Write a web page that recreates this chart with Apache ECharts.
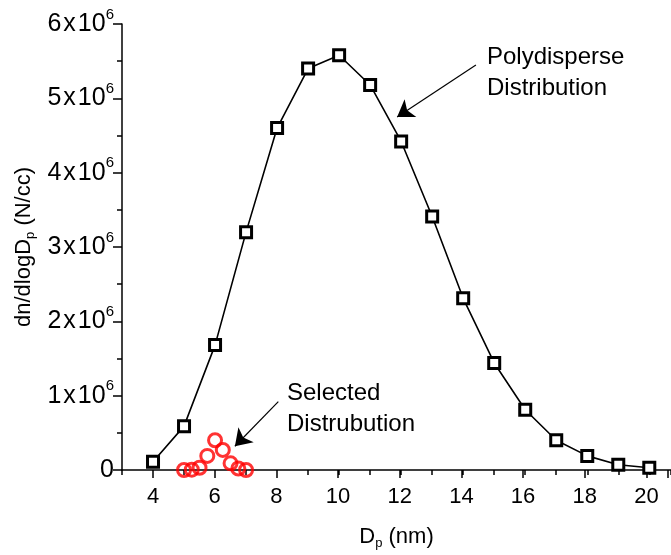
<!DOCTYPE html>
<html>
<head>
<meta charset="utf-8">
<script src="https://cdn.jsdelivr.net/npm/echarts@6/dist/echarts.min.js"></script>
<style>
    html, body { margin: 0; padding: 0; background: #fff; }
    #chart { width: 671px; height: 555px; }
</style>
</head>
<body>
<div id="chart"></div>
<script>
// 多分散分布 (黑色方块)
const polyX = [4, 5, 6, 7, 8, 9, 10, 11, 12, 13, 14, 15, 16, 17, 18, 19, 20];
const polyY = [0.11e6, 0.59e6, 1.68e6, 3.2e6, 4.6e6, 5.4e6, 5.58e6, 5.18e6, 4.42e6,
    3.41e6, 2.31e6, 1.44e6, 0.81e6, 0.40e6, 0.19e6, 0.07e6, 0.03e6];
// 选出的分布 (红色圆圈)
const selX = [5, 5.25, 5.5, 5.75, 6, 6.25, 6.5, 6.75, 7];
const selY = [0, 0.005e6, 0.03e6, 0.19e6, 0.40e6, 0.27e6, 0.09e6, 0.02e6, 0];
// 箭头 (数据坐标)
const polyArrow = [[14.41, 5.45e6], [11.87, 4.75e6]];
const selArrow = [[8.04, 0.92e6], [6.64, 0.32e6]];

const font = 'Liberation Sans';

const chart = echarts.init(document.getElementById('chart'));

const option = {
    animation: false,
    backgroundColor: '#fff',
    grid: [
        { left: 122, right: 0, top: 24, bottom: 85 },
        // 第二个 grid 只用来画偶数位置的长刻度和标签
        { left: 153, right: 0, top: 24, bottom: 85 }
    ],
    xAxis: [{
        type: 'value',
        min: 3,
        max: 20.7,
        interval: 1,
        axisLine: { lineStyle: { color: '#000', width: 1.5 } },
        axisTick: { length: 5, lineStyle: { color: '#000', width: 1.5 } },
        axisLabel: { show: false },
        splitLine: { show: false },
        name: 'D{sub|p} (nm)',
        nameLocation: 'middle',
        nameGap: 54,
        nameTextStyle: {
            fontFamily: font, fontSize: 22, color: '#000', lineHeight: 26,
            rich: {
                sub: { fontFamily: font, fontSize: 13, color: '#000', verticalAlign: 'bottom', lineHeight: 13 }
            }
        }
    }, {
        type: 'value',
        gridIndex: 1,
        min: 4,
        max: 20.7,
        interval: 2,
        axisLine: { show: false },
        axisTick: { length: 8, lineStyle: { color: '#000', width: 1.5 } },
        axisLabel: {
            fontFamily: font, fontSize: 22, color: '#000', margin: 16,
            formatter: v => (v % 2 === 0 ? String(v) : '')
        },
        splitLine: { show: false }
    }],
    yAxis: [{
        type: 'value',
        min: 0,
        max: 6e6,
        interval: 1e6,
        axisLine: { show: true, lineStyle: { color: '#000', width: 1.5 } },
        axisTick: { length: 9, lineStyle: { color: '#000', width: 1.5 } },
        minorTick: { show: true, splitNumber: 2, length: 5, lineStyle: { color: '#000', width: 1.5 } },
        splitLine: { show: false },
        axisLabel: {
            fontFamily: font, fontSize: 25, color: '#000', margin: 8, lineHeight: 34,
            formatter: v => (v === 0 ? '0' : (v / 1e6) + '{x|x}10{sup|6}'),
            rich: {
                x: { fontFamily: font, fontSize: 25, color: '#000', padding: [0, 2, 0, 2] },
                sup: { fontFamily: font, fontSize: 15, color: '#000', verticalAlign: 'top', lineHeight: 15 }
            }
        },
        name: 'dn/dlogD{sub|p} (N/cc)',
        nameLocation: 'middle',
        nameGap: 84,
        nameTextStyle: {
            fontFamily: font, fontSize: 22, color: '#000', lineHeight: 26,
            rich: {
                sub: { fontFamily: font, fontSize: 13, color: '#000', verticalAlign: 'bottom', lineHeight: 13 }
            }
        }
    }, {
        type: 'value',
        gridIndex: 1,
        min: 0,
        max: 6e6,
        show: false
    }],
    series: [{
        type: 'line',
        xAxisIndex: 0,
        yAxisIndex: 0,
        data: polyX.map((x, i) => [x, polyY[i]]),
        symbol: 'rect',
        symbolSize: 11,
        showAllSymbol: true,
        lineStyle: { color: '#000', width: 1.6 },
        itemStyle: { color: '#fff', borderColor: '#000', borderWidth: 3 },
        z: 3,
        markLine: {
            silent: true,
            symbol: ['none', 'arrow'],
            symbolSize: 16,
            label: { show: false },
            lineStyle: { color: '#000', width: 1.2, type: 'solid' },
            data: [
                [{ coord: polyArrow[0] }, { coord: polyArrow[1] }],
                [{ coord: selArrow[0] }, { coord: selArrow[1] }]
            ]
        }
    }, {
        type: 'scatter',
        xAxisIndex: 0,
        yAxisIndex: 0,
        data: selX.map((x, i) => [x, selY[i]]),
        symbol: 'circle',
        symbolSize: 13,
        itemStyle: { color: 'rgba(0,0,0,0)', borderColor: '#f00', borderWidth: 3 },
        z: 4
    }],
    graphic: [{
        type: 'text',
        left: 487,
        top: 42,
        style: {
            text: 'Polydisperse\nDistribution',
            font: '24px "Liberation Sans"',
            lineHeight: 31,
            fill: '#000'
        }
    }, {
        type: 'text',
        left: 287,
        top: 378,
        style: {
            text: 'Selected\nDistrubution',
            font: '24px "Liberation Sans"',
            lineHeight: 31,
            fill: '#000'
        }
    }]
};

chart.setOption(option);
</script>
</body>
</html>
